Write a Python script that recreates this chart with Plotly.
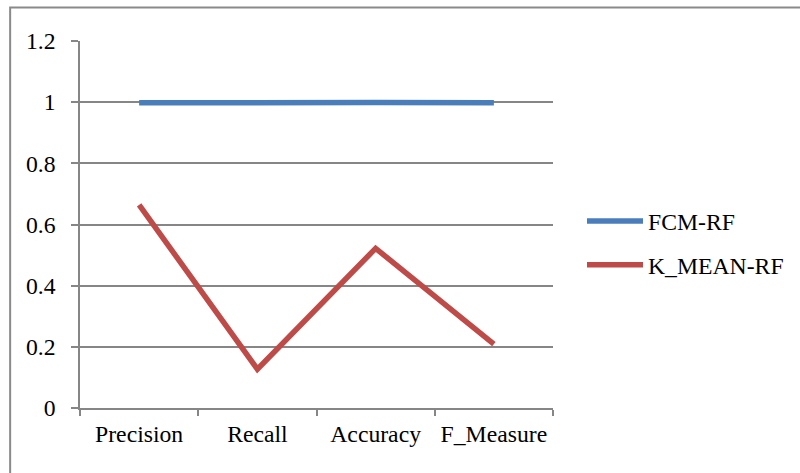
import plotly.graph_objects as go

# Evaluation metrics for the two clustering + random forest pipelines
metrics = ["Precision", "Recall", "Accuracy", "F_Measure"]
fcm_rf = [0.998, 1.0, 0.999, 0.998]
kmean_rf = [0.664, 0.127, 0.522, 0.209]
y_ticks = [0, 0.2, 0.4, 0.6, 0.8, 1, 1.2]
y_tick_text = ["0", "0.2", "0.4", "0.6", "0.8", "1", "1.2"]

W, H = 800, 473
ML, MR, MT, MB = 80, 246, 41, 65
PW, PH = W - ML - MR, H - MT - MB

FONT = dict(family="Liberation Serif, Times New Roman, serif", size=23.7, color="#000000")
GRID = "#868686"

fig = go.Figure()
fig.add_trace(go.Scatter(
    x=metrics, y=fcm_rf, mode="lines", name="FCM-RF",
    line=dict(color="#4A7EBB", width=5.5), legendgroup="a",
))
fig.add_trace(go.Scatter(
    x=metrics, y=kmean_rf, mode="lines", name="K_MEAN-RF",
    line=dict(color="#BE4B48", width=5.5), legendgroup="b",
))


def px_to_paper_x(px):
    return (px - ML) / PW


def px_to_paper_y(py):
    return 1 - (py - MT) / PH


# outer chart frame (runs off the right and bottom of the page)
fig.add_shape(
    type="rect", xref="paper", yref="paper",
    x0=px_to_paper_x(10), x1=px_to_paper_x(W + 20),
    y0=px_to_paper_y(H + 20), y1=px_to_paper_y(7.5),
    line=dict(color="#8a8a8a", width=2), fillcolor="rgba(0,0,0,0)", layer="below",
)

fig.update_layout(
    width=W, height=H,
    margin=dict(l=ML, r=MR, t=MT, b=MB, pad=0),
    paper_bgcolor="white", plot_bgcolor="white",
    font=FONT,
    showlegend=True,
    legend=dict(
        x=px_to_paper_x(582), y=px_to_paper_y(199), xanchor="left", yanchor="top",
        font=FONT, itemwidth=56, tracegroupgap=10, traceorder="grouped",
        bgcolor="rgba(0,0,0,0)",
    ),
    xaxis=dict(
        type="category", range=[-0.5, 3.5], tickson="boundaries",
        showline=True, linecolor=GRID, linewidth=1.5,
        ticks="outside", ticklen=6, tickcolor=GRID, tickwidth=1.5,
        showgrid=False, zeroline=False, tickfont=FONT, ticklabelstandoff=4,
    ),
    yaxis=dict(
        range=[0, 1.2], tickvals=y_ticks, ticktext=y_tick_text,
        showline=True, linecolor=GRID, linewidth=1.5,
        ticks="outside", ticklen=7, tickcolor=GRID, tickwidth=1.5,
        showgrid=True, gridcolor=GRID, gridwidth=1.5, zeroline=False,
        tickfont=FONT, ticklabelstandoff=11,
    ),
)

fig.write_html("out.html")
